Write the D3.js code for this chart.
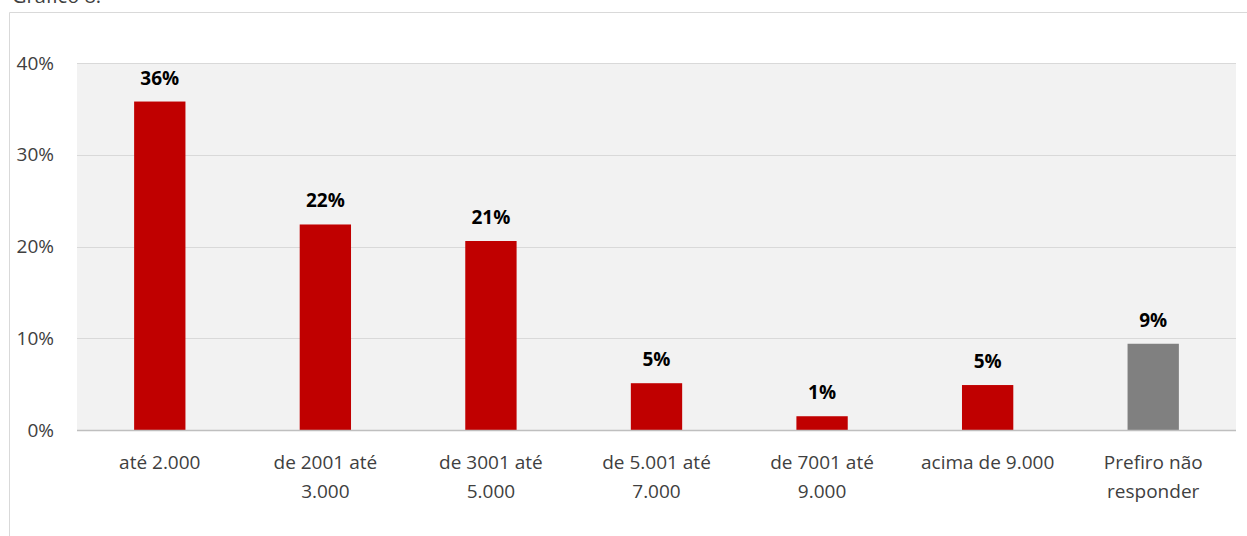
<!DOCTYPE html>
<html>
<head>
<meta charset="utf-8">
<script src="https://cdn.jsdelivr.net/npm/d3@7"></script>
<style>
    body { margin: 0; background: #fff; }
    svg { display: block; font-family: "Open Sans", "Noto Sans", sans-serif; }
</style>
</head>
<body>
<svg id="chart" width="1247" height="536"></svg>
<script>
// income brackets and shares
const categories = [
    ["até 2.000"],
    ["de 2001 até", "3.000"],
    ["de 3001 até", "5.000"],
    ["de 5.001 até", "7.000"],
    ["de 7001 até", "9.000"],
    ["acima de 9.000"],
    ["Prefiro não", "responder"]
]
const values = [35.8, 22.4, 20.6, 5.1, 1.5, 4.9, 9.4]
const labels = ["36%", "22%", "21%", "5%", "1%", "5%", "9%"]
const yTicks = [0, 10, 20, 30, 40]

const svg = d3.select("#chart")
const plot = {left: 77, right: 1236, top: 63, bottom: 430}

// cropped title line at the very top
svg.append("text")
    .attr("x", 12).attr("y", 3)
    .attr("font-size", 20).attr("fill", "#404040")
    .text("Gráfico 8:")

// outer chart frame
svg.append("path")
    .attr("d", "M9.5,536 V12.5 H1247")
    .attr("fill", "none").attr("stroke", "#d9d9d9")

const x = d3.scaleBand()
    .domain(d3.range(categories.length))
    .range([plot.left, plot.right])
    .paddingInner(0.69).paddingOuter(0.345)

const y = d3.scaleLinear()
    .domain([0, 40])
    .range([plot.bottom, plot.top])

svg.append("rect")
    .attr("x", plot.left).attr("y", plot.top)
    .attr("width", plot.right - plot.left).attr("height", plot.bottom - plot.top)
    .attr("fill", "#f2f2f2")

svg.append("g")
    .selectAll("line")
    .data(yTicks.slice(1))
    .join("line")
    .attr("x1", plot.left).attr("x2", plot.right)
    .attr("y1", d => Math.round(y(d)) + 0.5).attr("y2", d => Math.round(y(d)) + 0.5)
    .attr("stroke", "#d9d9d9")

const yAxis = svg.append("g")
    .attr("transform", `translate(${plot.left - 23},0)`)
    .call(d3.axisLeft(y).tickValues(yTicks).tickFormat(d => d + "%").tickSize(0).tickPadding(0))
yAxis.select(".domain").remove()
yAxis.selectAll("text")
    .attr("font-size", 19).attr("fill", "#404040")
    .attr("font-family", "\"Open Sans\", sans-serif")

svg.append("g")
    .selectAll("rect")
    .data(values)
    .join("rect")
    .attr("x", (d, i) => x(i))
    .attr("y", d => y(d))
    .attr("width", x.bandwidth())
    .attr("height", d => y(0) - y(d))
    .attr("fill", (d, i) => i == values.length - 1 ? "#808080" : "#c00000")

svg.append("g")
    .selectAll("text")
    .data(values)
    .join("text")
    .attr("x", (d, i) => x(i) + x.bandwidth() / 2)
    .attr("y", d => y(d) - 17)
    .attr("text-anchor", "middle")
    .attr("font-size", 19).attr("font-weight", "bold").attr("fill", "#000")
    .text((d, i) => labels[i])

svg.append("line")
    .attr("x1", plot.left).attr("x2", plot.right)
    .attr("y1", plot.bottom + 0.5).attr("y2", plot.bottom + 0.5)
    .attr("stroke", "#bfbfbf").attr("stroke-width", 1.5)

svg.append("g")
    .selectAll("text")
    .data(categories)
    .join("text")
    .attr("x", (d, i) => x(i) + x.bandwidth() / 2)
    .attr("y", 469)
    .attr("text-anchor", "middle")
    .attr("font-size", 19).attr("fill", "#404040")
    .selectAll("tspan")
    .data(d => d)
    .join("tspan")
    .attr("x", function () { return d3.select(this.parentNode).attr("x") })
    .attr("dy", (d, i) => i == 0 ? 0 : 29)
    .text(d => d)
</script>
</body>
</html>
